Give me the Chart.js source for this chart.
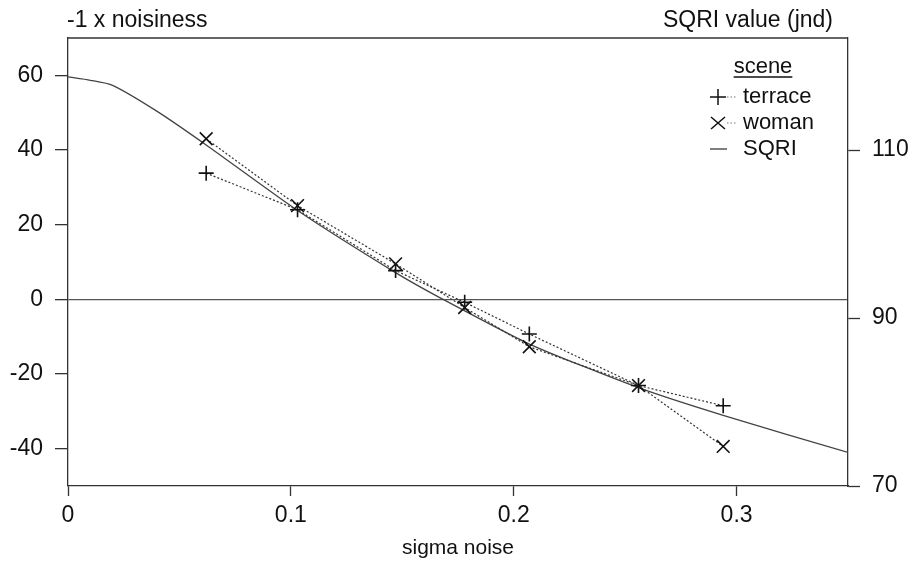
<!DOCTYPE html>
<html>
<head>
<meta charset="utf-8">
<script src="https://cdn.jsdelivr.net/npm/chart.js@4.4.0/dist/chart.umd.min.js"></script>
<style>
  html, body { margin: 0; padding: 0; background: #fff; }
  #wrap { width: 919px; height: 571px; }
</style>
</head>
<body>
<div id="wrap"><canvas id="myChart" width="919" height="571"></canvas></div>
<script>
//*************** data *******************

var sigmaPoints = [0.062, 0.103, 0.147, 0.178, 0.207, 0.256, 0.294];
var terraceValues = [33.8, 24.0, 7.7, -0.8, -9.3, -23.1, -28.5];
var womanValues = [43.0, 25.1, 9.5, -2.2, -12.7, -23.1, -39.4];

var sqriSigma = [0, 0.01, 0.02, 0.04, 0.062, 0.103, 0.147, 0.167, 0.207, 0.256, 0.294, 0.35];
var sqriValues = [118.7, 118.3, 117.7, 114.6, 110.6, 102.8, 95.4, 92.4, 86.9, 81.7, 78.4, 74.0];

var xTicks = [0, 0.1, 0.2, 0.3];
var leftTicks = [-40, -20, 0, 20, 40, 60];
var rightTicks = [70, 90, 110];

var leftTitle = "-1 x noisiness";
var rightTitle = "SQRI value (jnd)";
var xTitle = "sigma noise";
var legendTitle = "scene";

// build {x, y} pairs for the library
function pairs(xs, ys) {
  var out = [];
  for (var i = 0; i < xs.length; i++) {
    out.push({ x: xs[i], y: ys[i] });
  }
  return out;
}

var ink = "#111";
var font = "'Liberation Sans', Arial, sans-serif";

// title texts, top border and legend box
var extrasPlugin = {
  id: "extras",
  afterDraw: function(chart) {
    var ctx = chart.ctx;
    var area = chart.chartArea;
    ctx.save();

    // top border
    ctx.strokeStyle = "#333";
    ctx.lineWidth = 1.3;
    ctx.beginPath();
    ctx.moveTo(area.left, area.top);
    ctx.lineTo(area.right, area.top);
    ctx.stroke();

    ctx.fillStyle = ink;
    ctx.font = "23px " + font;
    ctx.textBaseline = "middle";
    ctx.textAlign = "left";
    ctx.fillText(leftTitle, area.left - 1, 21);
    ctx.textAlign = "right";
    ctx.fillText(rightTitle, area.right - 15, 21);

    // legend
    ctx.font = "22px " + font;
    var lx = 718;
    ctx.textAlign = "center";
    ctx.fillText(legendTitle, 763, 67);
    var w = ctx.measureText(legendTitle).width;
    ctx.lineWidth = 1.5;
    ctx.strokeStyle = ink;
    ctx.beginPath();
    ctx.moveTo(763 - w / 2, 77);
    ctx.lineTo(763 + w / 2, 77);
    ctx.stroke();

    ctx.textAlign = "left";
    var rows = [97, 123, 149];
    chart.data.datasets.forEach(function(ds, i) {
      var y = rows[i];
      ctx.strokeStyle = ink;
      ctx.lineWidth = 1.5;
      ctx.setLineDash([]);
      ctx.beginPath();
      if (ds.pointStyle === "cross") {
        ctx.moveTo(lx - 8, y); ctx.lineTo(lx + 8, y);
        ctx.moveTo(lx, y - 8); ctx.lineTo(lx, y + 8);
      } else if (ds.pointStyle === "crossRot") {
        ctx.moveTo(lx - 7, y - 6); ctx.lineTo(lx + 7, y + 6);
        ctx.moveTo(lx - 7, y + 6); ctx.lineTo(lx + 7, y - 6);
      } else {
        ctx.strokeStyle = "#555";
        ctx.moveTo(lx - 8, y); ctx.lineTo(lx + 9, y);
      }
      ctx.stroke();
      if (ds.pointStyle) {
        ctx.strokeStyle = "#777";
        ctx.lineWidth = 1;
        ctx.setLineDash([1.5, 2]);
        ctx.beginPath();
        ctx.moveTo(lx + 9, y);
        ctx.lineTo(lx + 19, y);
        ctx.stroke();
        ctx.setLineDash([]);
      }
      ctx.fillStyle = ink;
      ctx.fillText(ds.label, 743, y);
    });

    ctx.restore();
  }
};

var chartCtx = document.getElementById("myChart").getContext("2d");
var noiseChart = new Chart(chartCtx, {
  type: "scatter",
  data: {
    datasets: [{
      label: "terrace",
      data: pairs(sigmaPoints, terraceValues),
      yAxisID: "y",
      showLine: true,
      borderColor: "#333",
      borderWidth: 1.2,
      borderDash: [2, 2],
      pointStyle: "cross",
      pointRadius: 7.5,
      pointBorderWidth: 1.6,
      pointBorderColor: ink,
      pointBackgroundColor: ink
    }, {
      label: "woman",
      data: pairs(sigmaPoints, womanValues),
      yAxisID: "y",
      showLine: true,
      borderColor: "#333",
      borderWidth: 1.2,
      borderDash: [2, 2],
      pointStyle: "crossRot",
      pointRadius: 9,
      pointBorderWidth: 1.6,
      pointBorderColor: ink,
      pointBackgroundColor: ink
    }, {
      label: "SQRI",
      data: pairs(sqriSigma, sqriValues),
      yAxisID: "y2",
      showLine: true,
      borderColor: "#444",
      borderWidth: 1.3,
      pointRadius: 0,
      pointStyle: false,
      tension: 0.2
    }]
  },
  options: {
    responsive: false,
    animation: false,
    layout: { padding: { top: 38, left: 0, right: 0, bottom: 0 } },
    plugins: {
      legend: { display: false },
      tooltip: { enabled: false }
    },
    scales: {
      x: {
        type: "linear",
        min: 0,
        max: 0.35,
        afterBuildTicks: function(scale) {
          scale.ticks = xTicks.map(function(v) { return { value: v }; });
        },
        afterFit: function(scale) { scale.height = 85; },
        border: { display: true, color: "#333", width: 1.3 },
        grid: { drawOnChartArea: false, tickLength: 10, tickColor: "#333", tickWidth: 1.3 },
        ticks: {
          color: ink,
          padding: 6,
          maxRotation: 0,
          font: { family: font, size: 23 },
          callback: function(v) { return String(v); }
        },
        title: {
          display: true,
          text: xTitle,
          color: ink,
          font: { family: font, size: 21 },
          padding: { top: 0, bottom: 10 }
        }
      },
      y: {
        type: "linear",
        position: "left",
        min: -50,
        max: 70,
        afterBuildTicks: function(scale) {
          scale.ticks = leftTicks.map(function(v) { return { value: v }; });
        },
        afterFit: function(scale) { scale.width = 68; },
        border: { display: true, color: "#333", width: 1.3 },
        grid: {
          drawOnChartArea: true,
          color: function(c) { return c.tick && c.tick.value === 0 ? "#555" : "rgba(0,0,0,0)"; },
          lineWidth: 1.3,
          tickLength: 13,
          tickColor: "#333",
          tickWidth: 1.3
        },
        ticks: { color: ink, padding: 12, font: { family: font, size: 23 } }
      },
      y2: {
        type: "linear",
        position: "right",
        min: 70,
        max: 70 + 120 / 2.25,
        afterBuildTicks: function(scale) {
          scale.ticks = rightTicks.map(function(v) { return { value: v }; });
        },
        afterFit: function(scale) { scale.width = 71; },
        border: { display: true, color: "#333", width: 1.3 },
        grid: { drawOnChartArea: false, tickLength: 12, tickColor: "#333", tickWidth: 1.3 },
        ticks: { color: ink, padding: 12, font: { family: font, size: 23 } }
      }
    }
  },
  plugins: [extrasPlugin]
});
</script>
</body>
</html>
